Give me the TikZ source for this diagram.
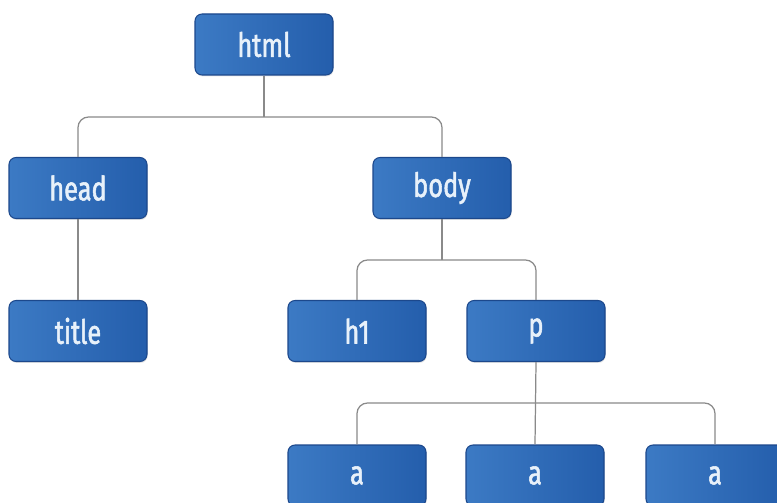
\documentclass[tikz,border=0pt]{standalone}
\usepackage{fontspec}
\newfontfamily\boxfont[FakeStretch=0.76, FakeBold=1.6]{Fira Sans}
\usepackage{tikz}
\usetikzlibrary{positioning, calc, shadows}
\definecolor{boxlight}{RGB}{60, 122, 196}
\definecolor{boxdark}{RGB}{36, 94, 172}
\definecolor{boxedge}{RGB}{28, 72, 140}
\definecolor{boxtext}{RGB}{232, 241, 250}
\definecolor{linegray}{RGB}{138, 138, 138}

\begin{document}
\begin{tikzpicture}[
  tagbox/.style={draw=boxedge, line width=0.6pt, left color=boxlight, right color=boxdark, rounded corners=4pt, minimum width=2.76cm, minimum height=1.22cm, inner sep=0pt, text=boxtext, font=\boxfont\fontsize{19}{19}\selectfont, drop shadow={opacity=0.2, shadow xshift=0.4pt, shadow yshift=-0.8pt}},
  conn/.style={draw=linegray, line width=0.7pt, rounded corners=6pt}
]
  \useasboundingbox (0, 0) rectangle (15.54, 10.04);
  \fill[white] (0, 0) rectangle (15.54, 10.04);

  \node[tagbox] (html) at (5.28, 9.15) {html};
  \node[tagbox] (head) at (1.56, 6.28) {head};
  \node[tagbox] (body) at (8.84, 6.28) {body};
  \node[tagbox] (title) at (1.56, 3.42) {title};
  \node[tagbox] (h1) at (7.14, 3.42) {h1};
  \node[tagbox] (p) at (10.72, 3.42) {p};
  \node[tagbox] (a1) at (7.14, 0.53) {a};
  \node[tagbox] (a2) at (10.70, 0.53) {a};
  \node[tagbox] (a3) at (14.30, 0.53) {a};

  \coordinate (htmlbar) at (html.south |- 0, 7.70);
  \coordinate (bodybar) at (body.south |- 0, 4.84);
  \coordinate (pbar) at (p.south |- 0, 1.98);

  \draw[conn] (html.south) -- (htmlbar);
  \draw[conn] (head.north) |- (htmlbar) -| (body.north);
  \draw[conn] (head.south) -- (title.north);
  \draw[conn] (body.south) -- (bodybar);
  \draw[conn] (h1.north) |- (bodybar) -| (p.north);
  \draw[conn] (p.south) -- (a2.north);
  \draw[conn] (a1.north) |- (pbar) -| (a3.north);
\end{tikzpicture}
\end{document}
